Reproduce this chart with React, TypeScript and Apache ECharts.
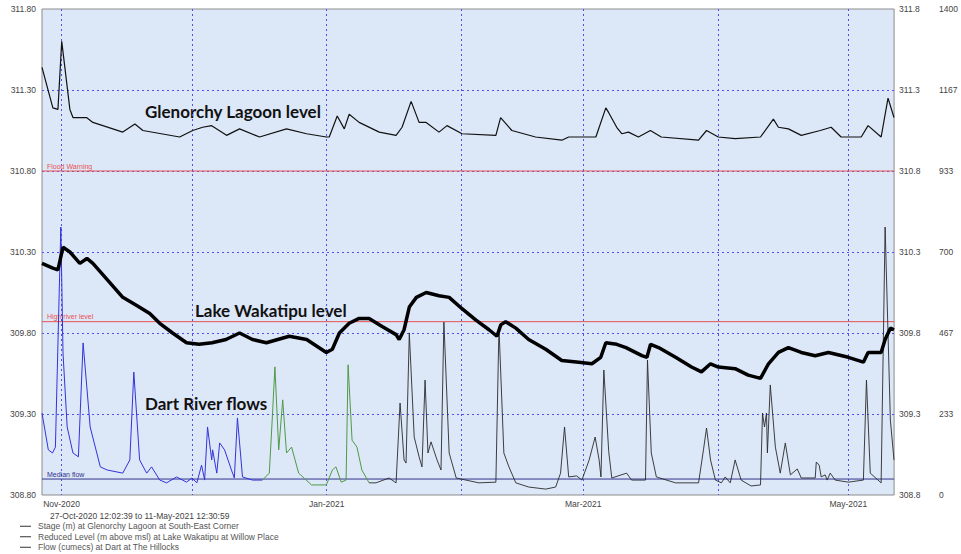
import React, { useEffect, useRef } from "react";
import * as echarts from "echarts";

type Pt = [string, number];

const BASE = 308.8;
const levelTicks = [308.8, 309.3, 309.8, 310.3, 310.8, 311.3, 311.8];
const flowTicks = [0, 233, 467, 700, 933, 1167, 1400];
const monthNames = ["Jan", "Feb", "Mar", "Apr", "May", "Jun", "Jul", "Aug", "Sep", "Oct", "Nov", "Dec"];

const seriesNames = [
  "Stage (m) at Glenorchy Lagoon at South-East Corner",
  "Reduced Level (m above msl) at Lake Wakatipu at Willow Place",
  "Flow (cumecs) at Dart at The Hillocks",
];

const refLines = { floodWarning: 310.8, highRiverLevel: 309.87, medianFlow: 46 };

const glenorchyLevel: Pt[] = [
  ["2020-10-27 12:00", 311.44], ["2020-10-30 00:00", 311.19], ["2020-10-31 04:00", 311.18],
  ["2020-11-01 01:00", 311.6], ["2020-11-02 22:00", 311.18], ["2020-11-03 15:00", 311.13],
  ["2020-11-06 18:00", 311.13], ["2020-11-08 05:00", 311.1], ["2020-11-15 02:00", 311.04],
  ["2020-11-17 21:00", 311.09], ["2020-11-19 17:00", 311.05], ["2020-11-28 04:00", 311.01],
  ["2020-12-01 04:00", 311.05], ["2020-12-03 11:00", 311.07], ["2020-12-05 13:00", 311.08],
  ["2020-12-08 23:00", 311.02], ["2020-12-11 23:00", 311.06], ["2020-12-16 13:00", 311.01],
  ["2020-12-22 18:00", 311.06], ["2020-12-27 09:00", 311.03], ["2020-12-31 22:00", 311.01],
  ["2021-01-01 14:00", 311.01], ["2021-01-03 10:00", 311.14], ["2021-01-05 01:00", 311.06],
  ["2021-01-06 04:00", 311.15], ["2021-01-08 11:00", 311.1], ["2021-01-13 02:00", 311.04],
  ["2021-01-16 23:00", 311.02], ["2021-01-18 08:00", 311.07], ["2021-01-20 10:00", 311.23],
  ["2021-01-22 06:00", 311.1], ["2021-01-23 21:00", 311.1], ["2021-01-26 20:00", 311.04],
  ["2021-01-28 16:00", 311.08], ["2021-02-01 03:00", 311.03], ["2021-02-08 22:00", 311.02],
  ["2021-02-10 00:00", 311.13], ["2021-02-12 14:00", 311.05], ["2021-02-18 01:00", 311.01],
  ["2021-02-24 02:00", 310.99], ["2021-02-25 16:00", 311.01], ["2021-03-03 22:00", 311.01],
  ["2021-03-06 05:00", 311.19], ["2021-03-06 21:00", 311.16], ["2021-03-08 17:00", 311.07],
  ["2021-03-09 21:00", 311.03], ["2021-03-11 10:00", 311.04], ["2021-03-13 17:00", 311.01],
  ["2021-03-16 11:00", 311.05], ["2021-03-18 23:00", 311.01], ["2021-03-27 13:00", 310.99],
  ["2021-03-29 09:00", 311.05], ["2021-04-01 02:00", 311.01], ["2021-04-04 23:00", 311.0],
  ["2021-04-10 19:00", 311.01], ["2021-04-13 18:00", 311.12], ["2021-04-14 22:00", 311.07],
  ["2021-04-17 05:00", 311.06], ["2021-04-20 04:00", 311.02], ["2021-04-24 13:00", 311.05],
  ["2021-04-27 01:00", 311.07], ["2021-04-29 08:00", 311.01], ["2021-05-03 23:00", 311.01],
  ["2021-05-05 13:00", 311.08], ["2021-05-08 13:00", 311.01], ["2021-05-10 03:00", 311.25],
  ["2021-05-11 12:00", 311.13],
];

const wakatipuLevel: Pt[] = [
  ["2020-10-27 12:00", 310.23], ["2020-10-30 00:00", 310.2], ["2020-10-31 04:00", 310.19],
  ["2020-11-01 08:00", 310.33], ["2020-11-02 22:00", 310.3], ["2020-11-05 05:00", 310.23],
  ["2020-11-06 20:00", 310.26], ["2020-11-08 05:00", 310.23], ["2020-11-11 12:00", 310.13],
  ["2020-11-15 02:00", 310.02], ["2020-11-18 07:00", 309.97], ["2020-11-21 07:00", 309.92],
  ["2020-11-23 14:00", 309.86], ["2020-11-26 13:00", 309.8], ["2020-11-29 18:00", 309.74],
  ["2020-12-02 15:00", 309.73], ["2020-12-05 15:00", 309.74], ["2020-12-08 20:00", 309.76],
  ["2020-12-11 23:00", 309.8], ["2020-12-14 22:00", 309.76], ["2020-12-18 03:00", 309.74],
  ["2020-12-23 09:00", 309.78], ["2020-12-27 09:00", 309.76], ["2020-12-31 22:00", 309.68],
  ["2021-01-02 07:00", 309.7], ["2021-01-03 22:00", 309.8], ["2021-01-06 04:00", 309.86],
  ["2021-01-08 11:00", 309.89], ["2021-01-10 18:00", 309.89], ["2021-01-13 18:00", 309.84],
  ["2021-01-16 23:00", 309.79], ["2021-01-17 16:00", 309.76], ["2021-01-18 19:00", 309.82],
  ["2021-01-20 00:00", 309.96], ["2021-01-21 15:00", 310.02], ["2021-01-23 21:00", 310.05],
  ["2021-01-26 20:00", 310.03], ["2021-01-29 04:00", 310.02], ["2021-02-01 03:00", 309.95],
  ["2021-02-04 08:00", 309.88], ["2021-02-07 08:00", 309.82], ["2021-02-09 04:00", 309.78],
  ["2021-02-10 01:00", 309.85], ["2021-02-11 04:00", 309.87], ["2021-02-13 12:00", 309.83],
  ["2021-02-16 11:00", 309.76], ["2021-02-20 09:00", 309.7], ["2021-02-24 02:00", 309.63],
  ["2021-02-28 00:00", 309.62], ["2021-03-03 00:00", 309.61], ["2021-03-05 01:00", 309.65],
  ["2021-03-06 05:00", 309.74], ["2021-03-08 17:00", 309.73], ["2021-03-10 20:00", 309.71],
  ["2021-03-14 12:00", 309.66], ["2021-03-15 16:00", 309.65], ["2021-03-16 12:00", 309.73],
  ["2021-03-18 08:00", 309.71], ["2021-03-22 06:00", 309.65], ["2021-03-25 22:00", 309.59],
  ["2021-03-28 05:00", 309.56], ["2021-03-30 07:00", 309.61], ["2021-04-01 02:00", 309.59],
  ["2021-04-04 23:00", 309.58], ["2021-04-07 23:00", 309.54], ["2021-04-10 19:00", 309.52],
  ["2021-04-12 15:00", 309.61], ["2021-04-14 22:00", 309.68], ["2021-04-17 05:00", 309.71],
  ["2021-04-20 04:00", 309.68], ["2021-04-23 09:00", 309.66], ["2021-04-26 10:00", 309.68],
  ["2021-05-01 00:00", 309.65], ["2021-05-04 11:00", 309.62], ["2021-05-05 13:00", 309.68],
  ["2021-05-08 13:00", 309.68], ["2021-05-09 11:00", 309.76], ["2021-05-10 16:00", 309.83],
  ["2021-05-11 12:00", 309.82],
];

const dartFlowBlue: Pt[] = [
  ["2020-10-27 12:00", 236], ["2020-10-28 23:00", 130], ["2020-10-29 22:00", 121],
  ["2020-10-30 14:00", 138], ["2020-10-31 20:00", 772], ["2020-11-01 08:00", 409],
  ["2020-11-02 07:00", 196], ["2020-11-03 15:00", 121], ["2020-11-04 21:00", 110],
  ["2020-11-05 23:00", 438], ["2020-11-07 14:00", 196], ["2020-11-09 22:00", 81],
  ["2020-11-11 12:00", 72], ["2020-11-15 02:00", 63], ["2020-11-16 17:00", 101],
  ["2020-11-17 15:00", 354], ["2020-11-18 23:00", 101], ["2020-11-20 14:00", 63],
  ["2020-11-21 17:00", 81], ["2020-11-23 14:00", 43], ["2020-11-25 04:00", 35],
  ["2020-11-27 11:00", 52], ["2020-11-29 18:00", 37], ["2020-12-01 00:00", 49],
  ["2020-12-02 03:00", 35], ["2020-12-03 05:00", 86], ["2020-12-03 22:00", 43],
  ["2020-12-04 14:00", 196], ["2020-12-05 13:00", 101], ["2020-12-05 18:00", 130],
  ["2020-12-06 17:00", 63], ["2020-12-07 09:00", 150], ["2020-12-08 12:00", 130],
  ["2020-12-10 02:00", 72], ["2020-12-10 18:00", 49], ["2020-12-11 11:00", 222],
  ["2020-12-12 15:00", 52], ["2020-12-14 22:00", 43], ["2020-12-17 05:00", 43],
];

const dartFlowGreen: Pt[] = [
  ["2020-12-17 05:00", 43], ["2020-12-18 19:00", 63], ["2020-12-19 11:00", 216],
  ["2020-12-20 02:00", 369], ["2020-12-20 23:00", 130], ["2020-12-21 21:00", 274],
  ["2020-12-22 18:00", 121], ["2020-12-23 22:00", 138], ["2020-12-25 13:00", 63],
  ["2020-12-28 12:00", 29], ["2020-12-31 22:00", 29], ["2021-01-02 07:00", 72],
  ["2021-01-03 03:00", 81], ["2021-01-04 08:00", 37], ["2021-01-05 11:00", 43],
  ["2021-01-05 22:00", 375], ["2021-01-06 20:00", 158], ["2021-01-07 23:00", 138],
  ["2021-01-09 02:00", 72], ["2021-01-10 18:00", 35],
];

const dartFlowBlack: Pt[] = [
  ["2021-01-10 18:00", 35], ["2021-01-12 08:00", 35], ["2021-01-15 08:00", 49],
  ["2021-01-16 23:00", 35], ["2021-01-17 21:00", 265], ["2021-01-18 19:00", 101],
  ["2021-01-19 06:00", 92], ["2021-01-20 00:00", 467], ["2021-01-21 03:00", 167],
  ["2021-01-22 06:00", 110], ["2021-01-22 22:00", 81], ["2021-01-23 15:00", 331],
  ["2021-01-24 07:00", 121], ["2021-01-25 00:00", 153], ["2021-01-26 09:00", 101],
  ["2021-01-27 07:00", 72], ["2021-01-27 23:00", 498], ["2021-01-29 04:00", 121],
  ["2021-01-30 19:00", 49], ["2021-02-05 00:00", 35], ["2021-02-08 22:00", 37],
  ["2021-02-09 15:00", 484], ["2021-02-10 18:00", 121], ["2021-02-11 22:00", 81],
  ["2021-02-13 12:00", 35], ["2021-02-16 11:00", 23], ["2021-02-20 09:00", 17],
  ["2021-02-22 16:00", 23], ["2021-02-23 19:00", 63], ["2021-02-24 17:00", 196],
  ["2021-02-25 16:00", 52], ["2021-02-27 12:00", 55], ["2021-02-28 17:00", 43],
  ["2021-03-02 09:00", 101], ["2021-03-03 18:00", 167], ["2021-03-04 16:00", 101],
  ["2021-03-05 02:00", 52], ["2021-03-05 18:00", 360], ["2021-03-06 21:00", 125],
  ["2021-03-07 14:00", 49], ["2021-03-11 00:00", 63], ["2021-03-12 03:00", 43],
  ["2021-03-15 08:00", 43], ["2021-03-15 19:00", 389], ["2021-03-16 16:00", 121],
  ["2021-03-17 20:00", 52], ["2021-03-22 06:00", 35], ["2021-03-27 13:00", 35],
  ["2021-03-28 16:00", 130], ["2021-03-29 09:00", 193], ["2021-03-30 07:00", 101],
  ["2021-03-31 10:00", 43], ["2021-04-01 19:00", 35], ["2021-04-02 16:00", 52],
  ["2021-04-03 20:00", 35], ["2021-04-04 23:00", 101], ["2021-04-06 08:00", 43],
  ["2021-04-08 15:00", 26], ["2021-04-10 19:00", 29], ["2021-04-11 06:00", 236],
  ["2021-04-11 17:00", 196], ["2021-04-12 04:00", 236], ["2021-04-12 09:00", 121],
  ["2021-04-13 01:00", 317], ["2021-04-14 05:00", 138], ["2021-04-15 08:00", 63],
  ["2021-04-16 12:00", 150], ["2021-04-17 16:00", 58], ["2021-04-19 06:00", 75],
  ["2021-04-20 04:00", 49], ["2021-04-23 09:00", 49], ["2021-04-23 15:00", 95],
  ["2021-04-24 07:00", 86], ["2021-04-24 18:00", 52], ["2021-04-25 16:00", 58],
  ["2021-04-26 03:00", 43], ["2021-04-26 20:00", 63], ["2021-04-27 23:00", 43],
  ["2021-05-01 00:00", 37], ["2021-05-04 11:00", 43], ["2021-05-05 04:00", 331],
  ["2021-05-06 01:00", 63], ["2021-05-08 13:00", 35], ["2021-05-09 11:00", 772],
  ["2021-05-10 16:00", 216], ["2021-05-11 12:00", 101],
];

const periodStart = new Date(2020, 9, 27, 12, 2, 39).getTime();
const periodEnd = new Date(2021, 4, 11, 12, 30, 59).getTime();
const periodText = "27-Oct-2020 12:02:39 to 11-May-2021 12:30:59";

const FONT = "'Liberation Sans', Arial, sans-serif";
const GRID_BLUE = "#5050ee";
const RED = "#ea5252";
const NAVY = "#33338c";

const rel = (arr: Pt[]) => arr.map(([t, v]) => [t, +(v - BASE).toFixed(4)]);

// Reference line drawn as a flat two-point series across the whole period, labelled at its start.
const refSeries = (name: string, yAxisIndex: number, value: number, color: string) => ({
  name, type: "line", yAxisIndex, z: 1, color,
  showSymbol: true, symbol: "circle", symbolSize: 0.01,
  lineStyle: { color, width: 1, type: "solid" }, itemStyle: { color },
  data: [
    {
      value: [periodStart, value],
      label: { show: true, formatter: name, position: "right", offset: [0, -5], fontSize: 7, color },
    },
    { value: [periodEnd, value] },
  ],
});

export default function App() {
  const ref = useRef<HTMLDivElement>(null);
  useEffect(() => {
    if (!ref.current) return;
    const chart = echarts.init(ref.current, null, { renderer: "svg" });
    const levelInterval = levelTicks[1] - levelTicks[0];
    const levelMax = levelTicks[levelTicks.length - 1] - BASE;
    const flowMax = flowTicks[flowTicks.length - 1];
    const flowInterval = flowMax / (flowTicks.length - 1);
    const option: any = {
      animation: false,
      textStyle: { fontFamily: FONT },
      grid: {
        left: 42, right: 65, top: 9, bottom: 59, show: true,
        backgroundColor: "#dce7f8", borderColor: "#8c8c8c", borderWidth: 1,
      },
      legend: {
        orient: "vertical", left: 20, top: 521, itemGap: 0, padding: 0,
        icon: "rect", itemWidth: 11, itemHeight: 1,
        data: seriesNames,
        textStyle: { fontSize: 8.5, color: "#555", lineHeight: 10.5, padding: [0, 0, 0, 2] },
        selectedMode: false,
      },
      graphic: [
        { type: "text", left: 145, top: 103, style: { text: "Glenorchy Lagoon level", font: "bold 17px Lato, 'Open Sans', sans-serif", fill: "#111" } },
        { type: "text", left: 195, top: 302, style: { text: "Lake Wakatipu level", font: "bold 17px Lato, 'Open Sans', sans-serif", fill: "#111" } },
        { type: "text", left: 145, top: 395, style: { text: "Dart River flows", font: "bold 17px Lato, 'Open Sans', sans-serif", fill: "#111" } },
        { type: "text", left: 50, top: 511, style: { text: periodText, font: `8.5px ${FONT}`, fill: "#444" } },
      ],
      xAxis: {
        type: "time", min: periodStart, max: periodEnd, splitNumber: 7,
        axisLine: { show: false }, axisTick: { show: false },
        axisLabel: {
          fontSize: 8.5, color: "#444", margin: 4, interval: 0, hideOverlap: false,
          showMinLabel: false, showMaxLabel: false, lineHeight: 9,
          formatter: (val: number) => {
            const d = new Date(val);
            if (d.getDate() !== 1 || d.getHours() !== 0) return "";
            const m = d.getMonth();
            if (m % 2 !== 0) return "";
            return `${monthNames[m]}-${d.getFullYear()}`;
          },
        },
        splitLine: { show: true, showMinLine: false, showMaxLine: false, lineStyle: { color: GRID_BLUE, type: [2, 3], width: 1 } },
      },
      yAxis: [
        {
          type: "value", position: "left", min: 0, max: levelMax, interval: levelInterval,
          axisLine: { show: false }, axisTick: { show: false },
          axisLabel: { fontSize: 8.5, color: "#444", margin: 6, formatter: (v: number) => (v + BASE).toFixed(2) },
          splitLine: { show: true, showMinLine: false, showMaxLine: false, lineStyle: { color: GRID_BLUE, type: [2, 3], width: 1 } },
        },
        {
          type: "value", position: "right", min: 0, max: levelMax, interval: levelInterval,
          axisLine: { show: false }, axisTick: { show: false },
          axisLabel: { fontSize: 8.5, color: "#444", margin: 5, formatter: (v: number) => (v + BASE).toFixed(1) },
          splitLine: { show: false },
        },
        {
          type: "value", position: "right", min: 0, max: flowMax, interval: flowInterval,
          axisLine: { show: false }, axisTick: { show: false },
          axisLabel: { fontSize: 8.5, color: "#444", margin: 45, formatter: (v: number) => String(Math.round(v)) },
          splitLine: { show: false },
        },
      ],
      series: [
        refSeries("Flood Warning", 0, +(refLines.floodWarning - BASE).toFixed(4), RED),
        refSeries("High river level", 0, +(refLines.highRiverLevel - BASE).toFixed(4), RED),
        refSeries("Median flow", 2, refLines.medianFlow, NAVY),
        {
          name: seriesNames[2] + " (a)", type: "line", yAxisIndex: 2, data: dartFlowBlue, z: 2,
          showSymbol: false, lineStyle: { color: "#3434d8", width: 1 }, itemStyle: { color: "#3434d8" },
        },
        {
          name: seriesNames[2] + " (b)", type: "line", yAxisIndex: 2, data: dartFlowGreen, z: 2,
          showSymbol: false, lineStyle: { color: "#4f9a45", width: 1 }, itemStyle: { color: "#4f9a45" },
        },
        {
          name: seriesNames[2], type: "line", yAxisIndex: 2, data: dartFlowBlack, z: 2,
          showSymbol: false, lineStyle: { color: "#2a2a2a", width: 0.9 }, itemStyle: { color: "#333" },
        },
        {
          name: seriesNames[1], type: "line", yAxisIndex: 0, data: rel(wakatipuLevel), z: 3,
          showSymbol: false, lineStyle: { color: "#000", width: 3.5 }, itemStyle: { color: "#333" },
        },
        {
          name: seriesNames[0], type: "line", yAxisIndex: 0, data: rel(glenorchyLevel), z: 3,
          showSymbol: false, lineStyle: { color: "#111", width: 1.2 }, itemStyle: { color: "#333" },
        },
      ],
    };
    chart.setOption(option);
    return () => chart.dispose();
  }, []);
  return (
    <div
      ref={ref}
      style={{ position: "absolute", left: 0, top: 0, width: 961, height: 554, background: "#fff" }}
    />
  );
}
